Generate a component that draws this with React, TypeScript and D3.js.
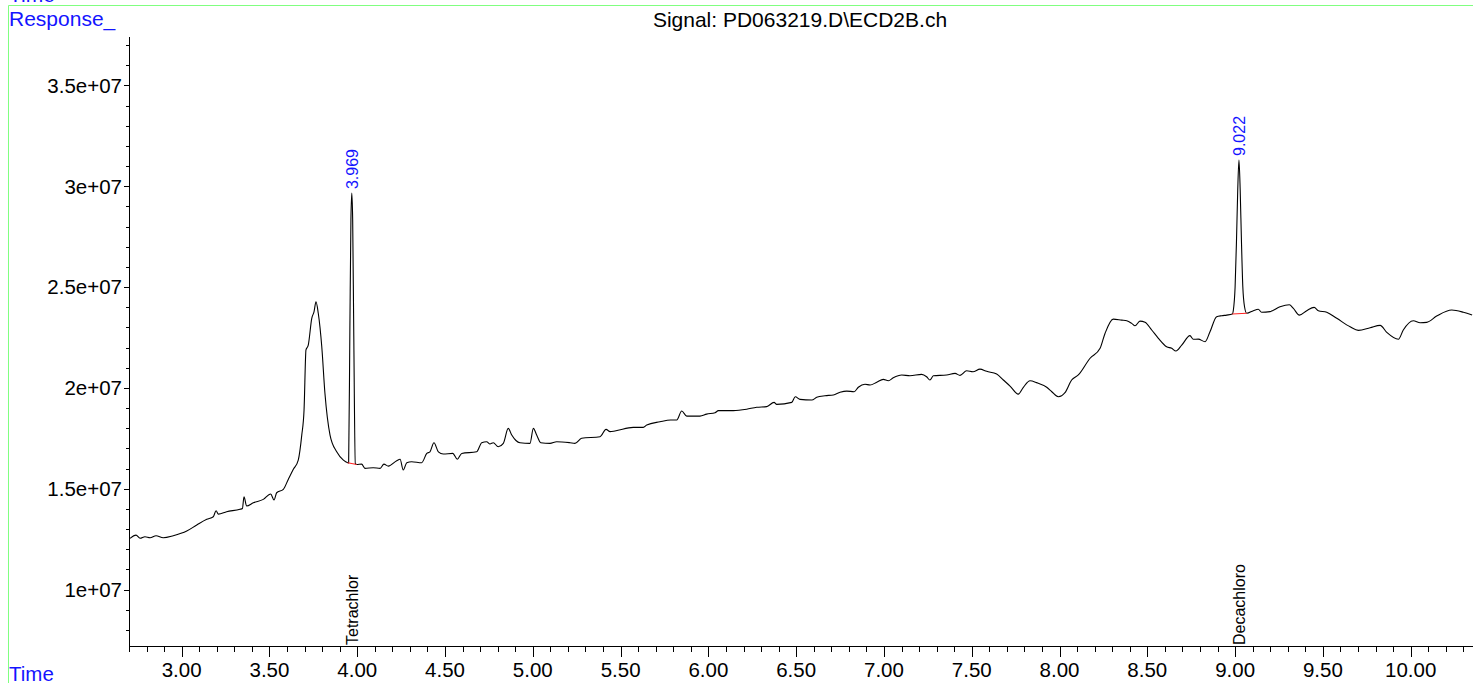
import React from "react";
import * as d3 from "d3";

// Chromatogram trace: retention time (min) and detector response (×1e6 counts)
const retentionTimes = [
  2.706, 2.74, 2.763, 2.791, 2.82, 2.854, 2.895, 2.952, 3.029, 3.086, 3.143, 3.18, 3.196, 3.209, 3.256,
  3.332, 3.346, 3.355, 3.37, 3.408, 3.465, 3.507, 3.526, 3.541, 3.579, 3.607, 3.636, 3.664, 3.684, 3.697,
  3.708, 3.721, 3.741, 3.754, 3.765, 3.778, 3.798, 3.816, 3.845, 3.883, 3.921, 3.946, 3.951, 3.958, 3.964,
  3.969, 3.974, 3.98, 3.989, 3.997, 4.025, 4.044, 4.091, 4.13, 4.152, 4.177, 4.225, 4.244, 4.262, 4.282,
  4.31, 4.367, 4.396, 4.414, 4.437, 4.462, 4.49, 4.544, 4.57, 4.595, 4.68, 4.709, 4.737, 4.756, 4.775,
  4.803, 4.832, 4.86, 4.88, 4.904, 4.927, 4.984, 5.003, 5.022, 5.045, 5.098, 5.136, 5.212, 5.24, 5.278,
  5.383, 5.417, 5.44, 5.468, 5.572, 5.629, 5.649, 5.724, 5.785, 5.82, 5.848, 5.877, 5.952, 5.99, 6.038,
  6.057, 6.142, 6.218, 6.275, 6.332, 6.374, 6.389, 6.475, 6.495, 6.522, 6.589, 6.617, 6.664, 6.712, 6.75,
  6.788, 6.83, 6.854, 6.892, 6.921, 6.959, 6.996, 7.025, 7.053, 7.101, 7.148, 7.215, 7.243, 7.262, 7.281,
  7.357, 7.405, 7.433, 7.471, 7.507, 7.547, 7.585, 7.642, 7.68, 7.718, 7.765, 7.794, 7.832, 7.87, 7.927,
  7.956, 7.993, 8.031, 8.069, 8.107, 8.174, 8.231, 8.259, 8.306, 8.354, 8.383, 8.411, 8.43, 8.458, 8.487,
  8.525, 8.563, 8.61, 8.639, 8.663, 8.696, 8.743, 8.762, 8.79, 8.829, 8.857, 8.895, 8.924, 8.952, 8.984,
  8.99, 9.0, 9.008, 9.015, 9.022, 9.029, 9.036, 9.044, 9.054, 9.066, 9.104, 9.132, 9.151, 9.199, 9.256,
  9.309, 9.332, 9.366, 9.408, 9.45, 9.474, 9.522, 9.579, 9.655, 9.702, 9.769, 9.826, 9.864, 9.93, 9.958,
  10.015, 10.054, 10.091, 10.148, 10.234, 10.3, 10.35,
];
const responseMillions = [
  12.54, 12.7, 12.54, 12.62, 12.57, 12.67, 12.57, 12.67, 12.9, 13.2, 13.48, 13.61, 13.91, 13.74, 13.86,
  13.98, 14.02, 14.6, 14.14, 14.3, 14.47, 14.74, 14.44, 14.8, 14.97, 15.46, 15.96, 16.42, 17.66, 18.9,
  21.88, 22.12, 23.45, 23.78, 24.27, 23.7, 22.04, 19.73, 17.66, 16.83, 16.42, 16.29, 16.28, 22.87, 28.32,
  29.66, 28.32, 22.87, 16.24, 16.2, 16.22, 16.01, 16.04, 16.01, 16.22, 16.12, 16.39, 16.46, 15.93, 16.29,
  16.34, 16.29, 16.75, 16.83, 17.28, 16.83, 16.72, 16.75, 16.46, 16.75, 16.83, 17.28, 17.33, 17.22, 17.28,
  17.08, 17.25, 17.99, 17.66, 17.39, 17.28, 17.25, 17.99, 17.66, 17.28, 17.25, 17.33, 17.28, 17.25, 17.5,
  17.58, 17.94, 17.83, 17.86, 18.04, 18.04, 18.16, 18.32, 18.41, 18.41, 18.85, 18.6, 18.6, 18.7, 18.77,
  18.87, 18.87, 18.94, 19.04, 19.07, 19.28, 19.18, 19.28, 19.56, 19.43, 19.4, 19.53, 19.61, 19.65, 19.78,
  19.84, 19.81, 20.03, 20.18, 20.14, 20.28, 20.42, 20.35, 20.5, 20.64, 20.6, 20.67, 20.55, 20.39, 20.6,
  20.64, 20.72, 20.62, 20.85, 20.8, 20.93, 20.82, 20.69, 20.39, 20.09, 19.69, 20.03, 20.35, 20.26, 20.03,
  19.81, 19.56, 19.76, 20.39, 20.64, 21.47, 21.96, 22.7, 23.41, 23.36, 23.33, 23.2, 23.08, 23.31, 23.25,
  22.87, 22.46, 22.04, 21.96, 21.83, 22.12, 22.59, 22.41, 22.42, 22.29, 22.78, 23.53, 23.58, 23.61, 23.66,
  23.85, 25.0, 27.33, 29.81, 31.3, 29.81, 27.33, 25.0, 24.01, 23.7, 23.83, 23.9, 23.75, 23.78, 24.02,
  24.12, 23.94, 23.61, 23.83, 23.99, 23.83, 23.75, 23.45, 23.03, 22.85, 22.98, 23.1, 22.75, 22.41, 22.87,
  23.33, 23.23, 23.25, 23.56, 23.86, 23.75, 23.61,
];

// Integrated peaks
const peakTimes = [3.969, 9.022];
const peakLabels = ["3.969", "9.022"];
const peakApexMillions = [29.66, 31.3];
const compoundNames = ["Tetrachlor", "Decachloro"];
const baselineStartTimes = [3.946, 8.984];
const baselineStartMillions = [16.29, 23.66];
const baselineEndTimes = [3.997, 9.066];
const baselineEndMillions = [16.2, 23.7];

// Axes
const xMajorTicks = [3.0, 3.5, 4.0, 4.5, 5.0, 5.5, 6.0, 6.5, 7.0, 7.5, 8.0, 8.5, 9.0, 9.5, 10.0];
const yMajorTicks = [1e7, 1.5e7, 2e7, 2.5e7, 3e7, 3.5e7];
const titleText = "Signal: PD063219.D\\ECD2B.ch";

const W = 1473;
const H = 683;
const FONT = "'Liberation Sans', Arial, Helvetica, sans-serif";
const BLUE = "#1414ff";
const GREEN = "#80ff80";

export default function App() {
  const x = d3.scaleLinear().domain([2.7, 10.355]).range([129, 1473]);
  const y = d3.scaleLinear().domain([7.2e6, 3.74e7]).range([646, 37]);

  const pts: [number, number][] = retentionTimes.map((t, i) => [t, responseMillions[i] * 1e6]);
  const line = d3
    .line<[number, number]>()
    .x((d) => x(d[0]))
    .y((d) => y(d[1]))
    .curve(d3.curveMonotoneX);

  const xMinor = d3.range(27, 104).map((v) => v / 10);
  const yMinor = d3.range(8, 38).map((v) => v * 1e6);
  const fmtY = (v: number) => v.toExponential().replace(/e\+(\d)$/, "e+0$1");
  const fmtX = d3.format(".2f");

  const [x0, x1] = x.range();
  const [yb, yt] = y.range();

  return (
    <div style={{ position: "absolute", left: 0, top: 0 }}>
      <svg width={W} height={H} style={{ display: "block", background: "#fff" }} fontFamily={FONT}>
        {/* frame */}
        <line x1={8.5} x2={W} y1={5.5} y2={5.5} stroke={GREEN} strokeWidth={1} />
        <line x1={8.5} x2={8.5} y1={5.5} y2={H} stroke={GREEN} strokeWidth={1} />
        <text x={9} y={2} fontSize={21} fill={BLUE}>Time</text>
        <text x={9} y={26} fontSize={21} fill={BLUE}>Response_</text>
        <text x={9} y={681} fontSize={20.5} fill={BLUE}>Time</text>
        <text x={800} y={27} fontSize={21} textAnchor="middle" fill="#000">{titleText}</text>

        {/* axes */}
        <g shapeRendering="crispEdges" stroke="#000">
          <line x1={x0 + 0.5} x2={x0 + 0.5} y1={yt} y2={yb} />
          <line x1={x0} x2={x1} y1={yb + 0.5} y2={yb + 0.5} />
          {xMinor.map((t) => (
            <line key={"xm" + t} x1={Math.round(x(t)) + 0.5} x2={Math.round(x(t)) + 0.5} y1={yb} y2={yb + 5.5} />
          ))}
          {xMajorTicks.map((t) => (
            <line key={"xM" + t} x1={Math.round(x(t)) + 0.5} x2={Math.round(x(t)) + 0.5} y1={yb} y2={yb + 10.5} />
          ))}
          {yMinor.map((v) => (
            <line key={"ym" + v} x1={x0 - 3} x2={x0} y1={Math.round(y(v)) + 0.5} y2={Math.round(y(v)) + 0.5} />
          ))}
          {yMajorTicks.map((v) => (
            <line key={"yM" + v} x1={x0 - 5} x2={x0} y1={Math.round(y(v)) + 0.5} y2={Math.round(y(v)) + 0.5} />
          ))}
        </g>
        {xMajorTicks.map((t) => (
          <text key={"xl" + t} x={x(t)} y={677} fontSize={20.5} textAnchor="middle" fill="#000">
            {fmtX(t)}
          </text>
        ))}
        {yMajorTicks.map((v) => (
          <text key={"yl" + v} x={x0 - 7} y={y(v)} dy="0.36em" fontSize={20.5} textAnchor="end" fill="#000">
            {fmtY(v)}
          </text>
        ))}

        {/* trace */}
        <path d={line(pts) || ""} fill="none" stroke="#000" strokeWidth={1.1} strokeLinejoin="round" />

        {/* integration baselines */}
        {peakTimes.map((_, i) => (
          <line
            key={"bl" + i}
            x1={x(baselineStartTimes[i])}
            y1={y(baselineStartMillions[i] * 1e6)}
            x2={x(baselineEndTimes[i])}
            y2={y(baselineEndMillions[i] * 1e6)}
            stroke="#ff2020"
            strokeWidth={1.1}
          />
        ))}

        {/* peak labels */}
        {peakTimes.map((t, i) => (
          <text
            key={"pl" + i}
            transform={`translate(${x(t)},${y(peakApexMillions[i] * 1e6) - 4}) rotate(-90)`}
            dy="0.36em"
            fontSize={16}
            fill={BLUE}
          >
            {peakLabels[i]}
          </text>
        ))}
        {peakTimes.map((t, i) => (
          <text
            key={"cn" + i}
            transform={`translate(${x(t)},${yb - 1}) rotate(-90)`}
            dy="0.36em"
            fontSize={16}
            fill="#000"
          >
            {compoundNames[i]}
          </text>
        ))}
      </svg>
    </div>
  );
}
